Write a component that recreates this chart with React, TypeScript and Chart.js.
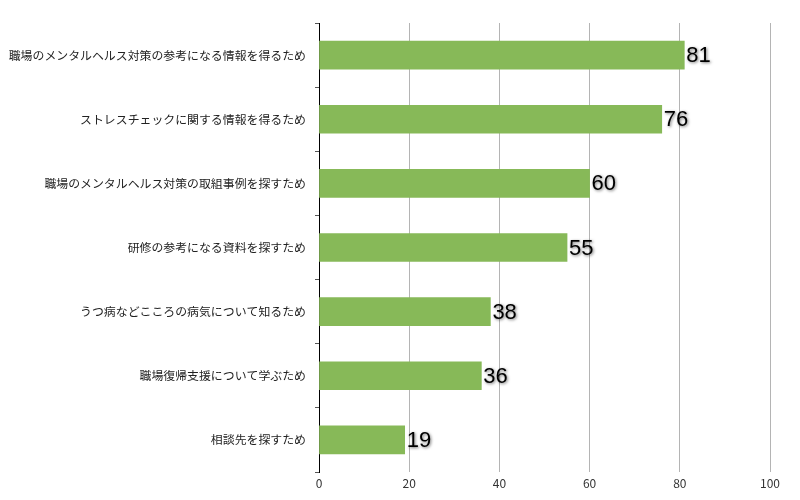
import { useEffect, useRef } from "react";
import { Chart, ChartConfiguration, registerables } from "chart.js";
Chart.register(...registerables);

// categories (top to bottom) and their values
const categories = [
  "職場のメンタルヘルス対策の参考になる情報を得るため",
  "ストレスチェックに関する情報を得るため",
  "職場のメンタルヘルス対策の取組事例を探すため",
  "研修の参考になる資料を探すため",
  "うつ病などこころの病気について知るため",
  "職場復帰支援について学ぶため",
  "相談先を探すため",
];
const values = [81, 76, 60, 55, 38, 36, 19];

const JP_FONT = "'Noto Sans CJK JP', 'Noto Sans', sans-serif";

// draws the value next to the end of every bar
const valueLabels = {
  id: "valueLabels",
  afterDatasetsDraw(chart: Chart) {
    const ctx = chart.ctx;
    const meta = chart.getDatasetMeta(0);
    ctx.save();
    ctx.font = "22px 'Liberation Sans', 'DejaVu Sans', sans-serif";
    ctx.fillStyle = "#000";
    ctx.textAlign = "left";
    ctx.textBaseline = "middle";
    ctx.shadowColor = "rgba(0,0,0,0.55)";
    ctx.shadowBlur = 3;
    ctx.shadowOffsetX = 1;
    ctx.shadowOffsetY = 1;
    meta.data.forEach((bar: any, i: number) => {
      ctx.fillText(String(values[i]), bar.x + 2, bar.y + 1);
    });
    ctx.restore();
  },
};

export default function App() {
  const canvasRef = useRef<HTMLCanvasElement | null>(null);
  const chartRef = useRef<Chart<"bar"> | null>(null);

  useEffect(() => {
    document.body.style.margin = "0";
    const config: ChartConfiguration<"bar"> = {
      type: "bar",
      data: {
        labels: categories,
        datasets: [
          {
            data: values,
            backgroundColor: "#87b958",
            borderWidth: 0,
            barThickness: 28,
          },
        ],
      },
      options: {
        indexAxis: "y",
        animation: false,
        responsive: false,
        devicePixelRatio: 1,
        layout: { padding: { left: 8, right: 30, top: 23, bottom: 0 } },
        plugins: {
          legend: { display: false },
          tooltip: { enabled: false },
        },
        scales: {
          x: {
            min: 0,
            max: 100,
            ticks: {
              stepSize: 20,
              padding: 4,
              color: "#333",
              font: { family: JP_FONT, size: 12 },
            },
            grid: {
              color: (c: any) => (c.index === 0 ? "rgba(0,0,0,0)" : "#b4b4b4"),
              drawTicks: false,
            },
            border: { display: false },
            afterFit: (scale: any) => {
              scale.height = 28;
            },
          },
          y: {
            ticks: {
              padding: 9,
              color: "#222",
              font: { family: JP_FONT, size: 11.9 },
            },
            grid: {
              offset: true,
              drawOnChartArea: false,
              tickLength: 4,
              color: "#555",
            },
            border: { display: true, color: "#000", width: 1 },
            afterFit: (scale: any) => {
              scale.width = 311;
            },
          },
        },
      },
      plugins: [valueLabels],
    };

    if (canvasRef.current) {
      chartRef.current = new Chart(canvasRef.current, config);
    }
    return () => {
      if (chartRef.current) chartRef.current.destroy();
    };
  }, []);

  return (
    <div style={{ width: 800, height: 500, background: "#fff" }}>
      <canvas ref={canvasRef} width={800} height={500} />
    </div>
  );
}
